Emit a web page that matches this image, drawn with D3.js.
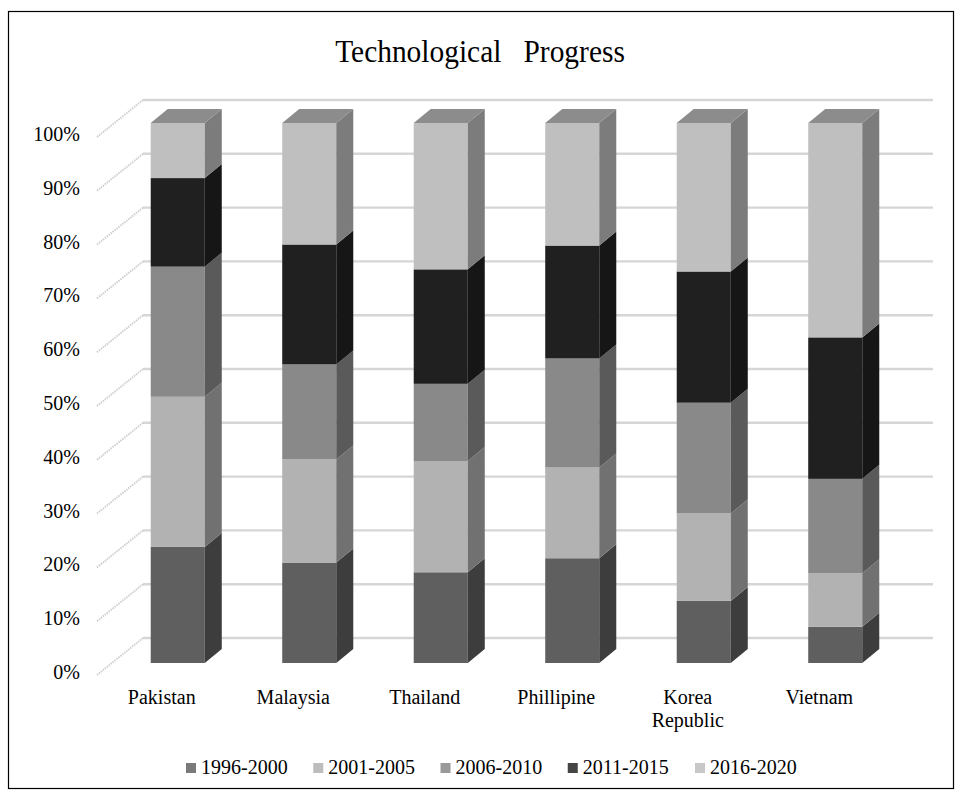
<!DOCTYPE html>
<html>
<head>
<meta charset="utf-8">
<script src="https://cdn.jsdelivr.net/npm/d3@7"></script>
<style>
  html, body { margin: 0; padding: 0; background: #fff; }
  svg { display: block; }
  svg text { font-family: "Liberation Serif", "Times New Roman", serif; }
</style>
</head>
<body>
<svg id="chart" width="959" height="792"></svg>
<script>
const countries = ["Pakistan", "Malaysia", "Thailand", "Phillipine", "Korea Republic", "Vietnam"];
const countryLines = [["Pakistan"], ["Malaysia"], ["Thailand"], ["Phillipine"], ["Korea", "Republic"], ["Vietnam"]];
const seriesNames = ["1996-2000", "2001-2005", "2006-2010", "2011-2015", "2016-2020"];
const s1996 = [21.5, 18.6, 16.8, 19.4, 11.5, 6.7];
const s2001 = [27.8, 19.1, 20.6, 16.8, 16.2, 9.9];
const s2006 = [24.1, 17.6, 14.3, 20.2, 20.5, 17.5];
const s2011 = [16.4, 22.2, 21.2, 20.9, 24.3, 26.2];
const s2016 = [10.2, 22.5, 27.1, 22.7, 27.5, 39.7];
const yTicks = [0, 10, 20, 30, 40, 50, 60, 70, 80, 90, 100];

const frontColors = ["#5f5f5f", "#b2b2b2", "#898989", "#202020", "#bfbfbf"];
const sideColors  = ["#3d3d3d", "#717171", "#5a5a5a", "#161616", "#7c7c7c"];
const topColor = "#8c8c8c";
const legendColors = ["#7a7a7a", "#bdbdbd", "#999999", "#444444", "#c8c8c8"];

const FONT = "'Liberation Serif', 'Times New Roman', serif";

const seriesData = [s1996, s2001, s2006, s2011, s2016];
const rows = countries.map((c, i) => {
  const r = { country: c };
  seriesNames.forEach((s, k) => r[s] = seriesData[k][i]);
  return r;
});
const stacked = d3.stack().keys(seriesNames)
  .offset(d3.stackOffsetExpand)(rows);

const svg = d3.select("#chart");

// frame
svg.append("rect").attr("x", 8.5).attr("y", 11.5).attr("width", 945).attr("height", 777)
  .attr("fill", "none").attr("stroke", "#000").attr("stroke-width", 1.2);

// title (slightly condensed, taller serif)
svg.append("text")
  .attr("transform", "translate(480,62) scale(0.92,1)")
  .attr("text-anchor", "middle")
  .attr("font-family", FONT)
  .attr("font-size", 32).attr("fill", "#000").style("white-space", "pre")
  .text("Technological   Progress");

// scales
const x = d3.scaleBand().domain(countries).range([112, 901])
  .paddingInner(0.589).paddingOuter(0.2945);
const yFront = d3.scaleLinear().domain([0, 1]).range([663, 123]);
const yBack = d3.scaleLinear().domain([0, 100]).range([638, 100]);
const yLabel = d3.scaleLinear().domain([0, 100]).range([675, 137]);
const dx = 17, dy = -14;

// back-wall gridlines
svg.append("g").selectAll("line").data(yTicks).join("line")
  .attr("x1", 143).attr("x2", 933)
  .attr("y1", d => yBack(d)).attr("y2", d => yBack(d))
  .attr("stroke", "#d6d6d6").attr("stroke-width", 2.4);

// side-wall gridlines (textured)
svg.append("g").selectAll("line").data(yTicks).join("line")
  .attr("x1", 97).attr("y1", d => yLabel(d))
  .attr("x2", 143).attr("y2", d => yBack(d))
  .attr("stroke", "#cfcfcf").attr("stroke-width", 2)
  .attr("stroke-dasharray", "1.5,1");

// y labels
svg.append("g").selectAll("text").data(yTicks).join("text")
  .attr("x", 80).attr("y", d => yLabel(d) - 3)
  .attr("dy", "0.35em").attr("text-anchor", "end")
  .attr("font-family", FONT)
  .attr("font-size", 20).attr("fill", "#000")
  .text(d => d + "%");

// bars
const bars = svg.append("g");
countries.forEach((c, i) => {
  const x0 = x(c), w = x.bandwidth(), x1 = x0 + w;
  stacked.forEach((layer, k) => {
    const v0 = layer[i][0], v1 = layer[i][1];
    const yb = yFront(v0), yt = yFront(v1);
    bars.append("rect").attr("x", x0).attr("y", yt).attr("width", w).attr("height", yb - yt)
      .attr("fill", frontColors[k]);
    bars.append("path")
      .attr("d", `M${x1},${yt}L${x1 + dx},${yt + dy}L${x1 + dx},${yb + dy}L${x1},${yb}Z`)
      .attr("fill", sideColors[k]);
  });
  const yt = yFront(1);
  bars.append("path")
    .attr("d", `M${x0},${yt}L${x0 + dx},${yt + dy}L${x1 + dx},${yt + dy}L${x1},${yt}Z`)
    .attr("fill", topColor);
});

// category labels
const cat = svg.append("g");
countries.forEach((c, i) => {
  const cx = x(c) + x.bandwidth() / 2 - 16;
  countryLines[i].forEach((line, j) => {
    cat.append("text").attr("x", cx).attr("y", 704 + j * 23)
      .attr("text-anchor", "middle").attr("font-family", FONT)
      .attr("font-size", 20).attr("fill", "#000")
      .text(line);
  });
});

// legend
const legendX = d3.scalePoint().domain(seriesNames).range([186, 695]);
const lg = svg.append("g");
seriesNames.forEach((s, k) => {
  const lx = legendX(s);
  lg.append("rect").attr("x", lx).attr("y", 763).attr("width", 10).attr("height", 10)
    .attr("fill", legendColors[k]);
  lg.append("text").attr("x", lx + 15).attr("y", 774)
    .attr("font-family", FONT)
    .attr("font-size", 20).attr("fill", "#000").text(s);
});
</script>
</body>
</html>
